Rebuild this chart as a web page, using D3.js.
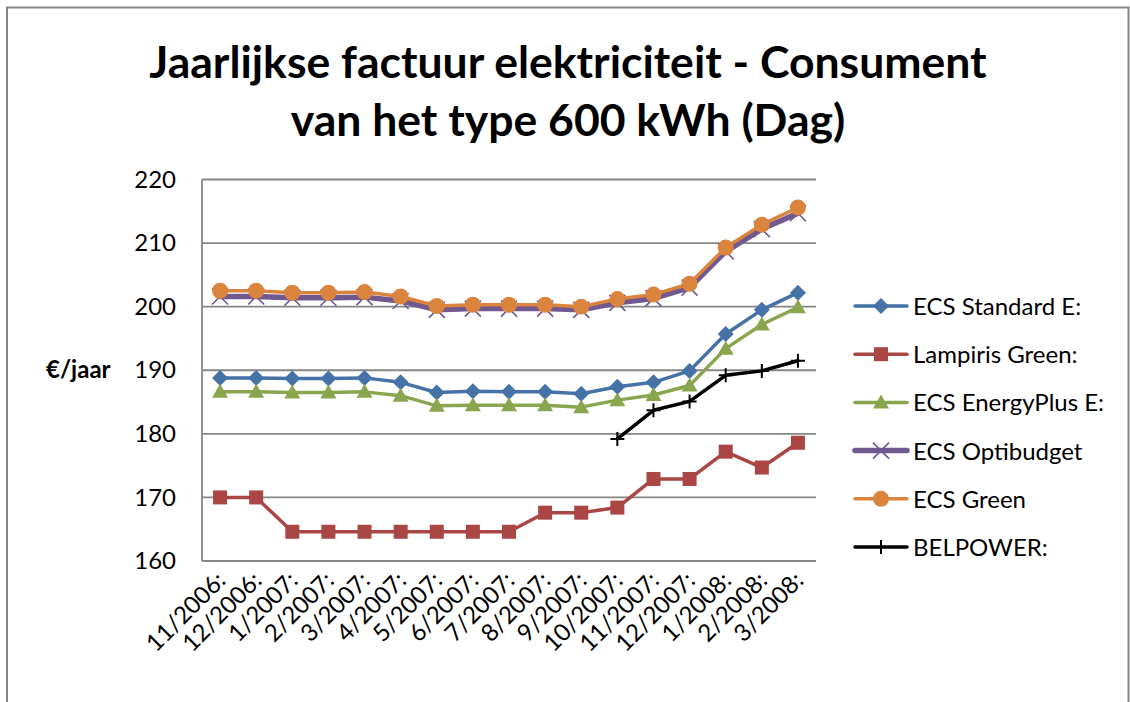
<!DOCTYPE html>
<html><head><meta charset="utf-8">
<script src="https://cdn.jsdelivr.net/npm/d3@7"></script>
<style>body{margin:0;background:#fff}svg{display:block}text{font-family:Lato,"Open Sans",sans-serif;fill:#000}</style>
</head><body>
<svg id="c" width="1130" height="702"></svg>
<script>
const categories = ["11/2006:","12/2006:","1/2007:","2/2007:","3/2007:","4/2007:","5/2007:","6/2007:","7/2007:","8/2007:","9/2007:","10/2007:","11/2007:","12/2007:","1/2008:","2/2008:","3/2008:"];
const ecsStandard   = [188.8,188.8,188.7,188.7,188.8,188.1,186.5,186.7,186.6,186.6,186.3,187.4,188.1,189.9,195.7,199.5,202.2];
const lampiris      = [170.0,170.0,164.6,164.6,164.6,164.6,164.6,164.6,164.6,167.6,167.6,168.4,172.9,172.9,177.2,174.7,178.6];
const ecsEnergyPlus = [186.6,186.6,186.5,186.5,186.6,186.0,184.4,184.5,184.5,184.5,184.2,185.3,186.1,187.6,193.4,197.2,199.9];
const ecsOptibudget = [201.6,201.6,201.4,201.4,201.5,200.9,199.5,199.7,199.7,199.7,199.5,200.6,201.3,203.0,208.7,212.2,214.7];
const ecsGreen      = [202.5,202.5,202.2,202.2,202.3,201.6,200.1,200.3,200.3,200.3,200.0,201.2,201.9,203.6,209.3,212.9,215.6];
const belpower      = [null,null,null,null,null,null,null,null,null,null,null,179.2,183.7,185.1,189.2,189.9,191.5];
const seriesNames   = ["ECS Standard E:","Lampiris Green:","ECS EnergyPlus E:","ECS Optibudget","ECS Green","BELPOWER:"];
const yTicks        = [160,170,180,190,200,210,220];
const titleLines    = ["Jaarlijkse factuur elektriciteit - Consument","van het type 600 kWh (Dag)"];
const yLabel        = "€/jaar";

const seriesData = [ecsStandard, lampiris, ecsEnergyPlus, ecsOptibudget, ecsGreen, belpower];
const styles = [
  {color:"#4572A7", width:3.5, marker:"diamond"},
  {color:"#AA4643", width:3.5, marker:"square"},
  {color:"#89A54E", width:3.5, marker:"triangle"},
  {color:"#71588F", width:5.5, marker:"x"},
  {color:"#DB843D", width:3.5, marker:"circle"},
  {color:"#000000", width:3.5, marker:"plus"}
];

const svg = d3.select("#c");
svg.append("rect").attr("width",1130).attr("height",702).attr("fill","#fff");
svg.append("rect").attr("x",7).attr("y",7.5).attr("width",1121.5).attr("height",760)
  .attr("fill","none").attr("stroke","#868686").attr("stroke-width",2);

// Title
svg.append("g").selectAll("text").data(titleLines).join("text")
  .attr("x",568).attr("y",(d,i)=>78+i*58).attr("text-anchor","middle")
  .style("font-weight","bold").style("font-size","44.5px").text(d=>d);

const L=202, R=816, T=179.5, B=561;
const x = d3.scaleBand().domain(categories).range([L,R]);
const y = d3.scaleLinear().domain([160,220]).range([B,T]);
const cx = d => x(d)+x.bandwidth()/2;

// gridlines
svg.append("g").selectAll("line").data(yTicks).join("line")
  .attr("x1",L).attr("x2",R).attr("y1",d=>y(d)).attr("y2",d=>y(d))
  .attr("stroke","#868686").attr("stroke-width",1.8);
svg.append("line").attr("x1",L).attr("x2",L).attr("y1",T).attr("y2",B)
  .attr("stroke","#868686").attr("stroke-width",1.8);

// y axis labels
const yAxis = d3.axisLeft(y).tickValues(yTicks).tickSize(0).tickPadding(26);
const gy = svg.append("g").attr("transform",`translate(${L},0)`).call(yAxis);
gy.select(".domain").remove();
gy.selectAll("text").style("font-size","24px").style("font-family","Lato,sans-serif").attr("fill","#000");

// x axis labels
const xAxis = d3.axisBottom(x).tickSize(0).tickPadding(0);
const gx = svg.append("g").attr("transform",`translate(0,${B})`).call(xAxis);
gx.select(".domain").remove();
gx.selectAll("text").style("font-size","24px").style("font-family","Lato,sans-serif").attr("fill","#000")
  .attr("text-anchor","end").attr("dy",null).attr("y",0)
  .attr("transform","translate(7,21) rotate(-45)");

// y label
svg.append("text").attr("x",46).attr("y",378).style("font-weight","bold").style("font-size","24px").text(yLabel);

function marker(g, type, color, size){
  const s=size;
  if(type==="diamond") g.append("path").attr("d",`M0,${-s}L${s},0L0,${s}L${-s},0Z`).attr("fill",color);
  else if(type==="square") g.append("rect").attr("x",-7).attr("y",-7).attr("width",14).attr("height",14).attr("fill",color);
  else if(type==="triangle") g.append("path").attr("d","M0,-8L8,6L-8,6Z").attr("fill",color);
  else if(type==="circle") g.append("circle").attr("r",8).attr("fill",color);
  else if(type==="x") g.append("path").attr("d","M-8,-8L8,8M-8,8L8,-8").attr("stroke",color).attr("stroke-width",1.6).attr("fill","none");
  else if(type==="plus") g.append("path").attr("d","M-7,0L7,0M0,-7L0,7").attr("stroke",color).attr("stroke-width",2).attr("fill","none");
}

seriesData.forEach((data,si)=>{
  const st = styles[si];
  const pts = categories.map((c,i)=>({c, v:data[i]})).filter(p=>p.v!=null);
  const line = d3.line().x(p=>cx(p.c)).y(p=>y(p.v));
  const g = svg.append("g");
  g.append("path").attr("d",line(pts)).attr("fill","none").attr("stroke",st.color)
    .attr("stroke-width",st.width).attr("stroke-linejoin","round").attr("stroke-linecap","round");
  pts.forEach(p=>{
    const mg = g.append("g").attr("transform",`translate(${cx(p.c)},${y(p.v)})`);
    marker(mg, st.marker, st.color, 8);
  });
});

// legend
const lg = svg.append("g");
seriesNames.forEach((n,i)=>{
  const yy = 306 + i*48.2;
  const g = lg.append("g").attr("transform",`translate(0,${yy})`);
  g.append("line").attr("x1",855).attr("x2",907).attr("y1",0).attr("y2",0)
    .attr("stroke",styles[i].color).attr("stroke-width",styles[i].width).attr("stroke-linecap","round");
  const mg = g.append("g").attr("transform","translate(881,0)");
  marker(mg, styles[i].marker, styles[i].color, 8);
  g.append("text").attr("x",913).attr("y",9).style("font-size","24px").text(n);
});
</script>
</body></html>
